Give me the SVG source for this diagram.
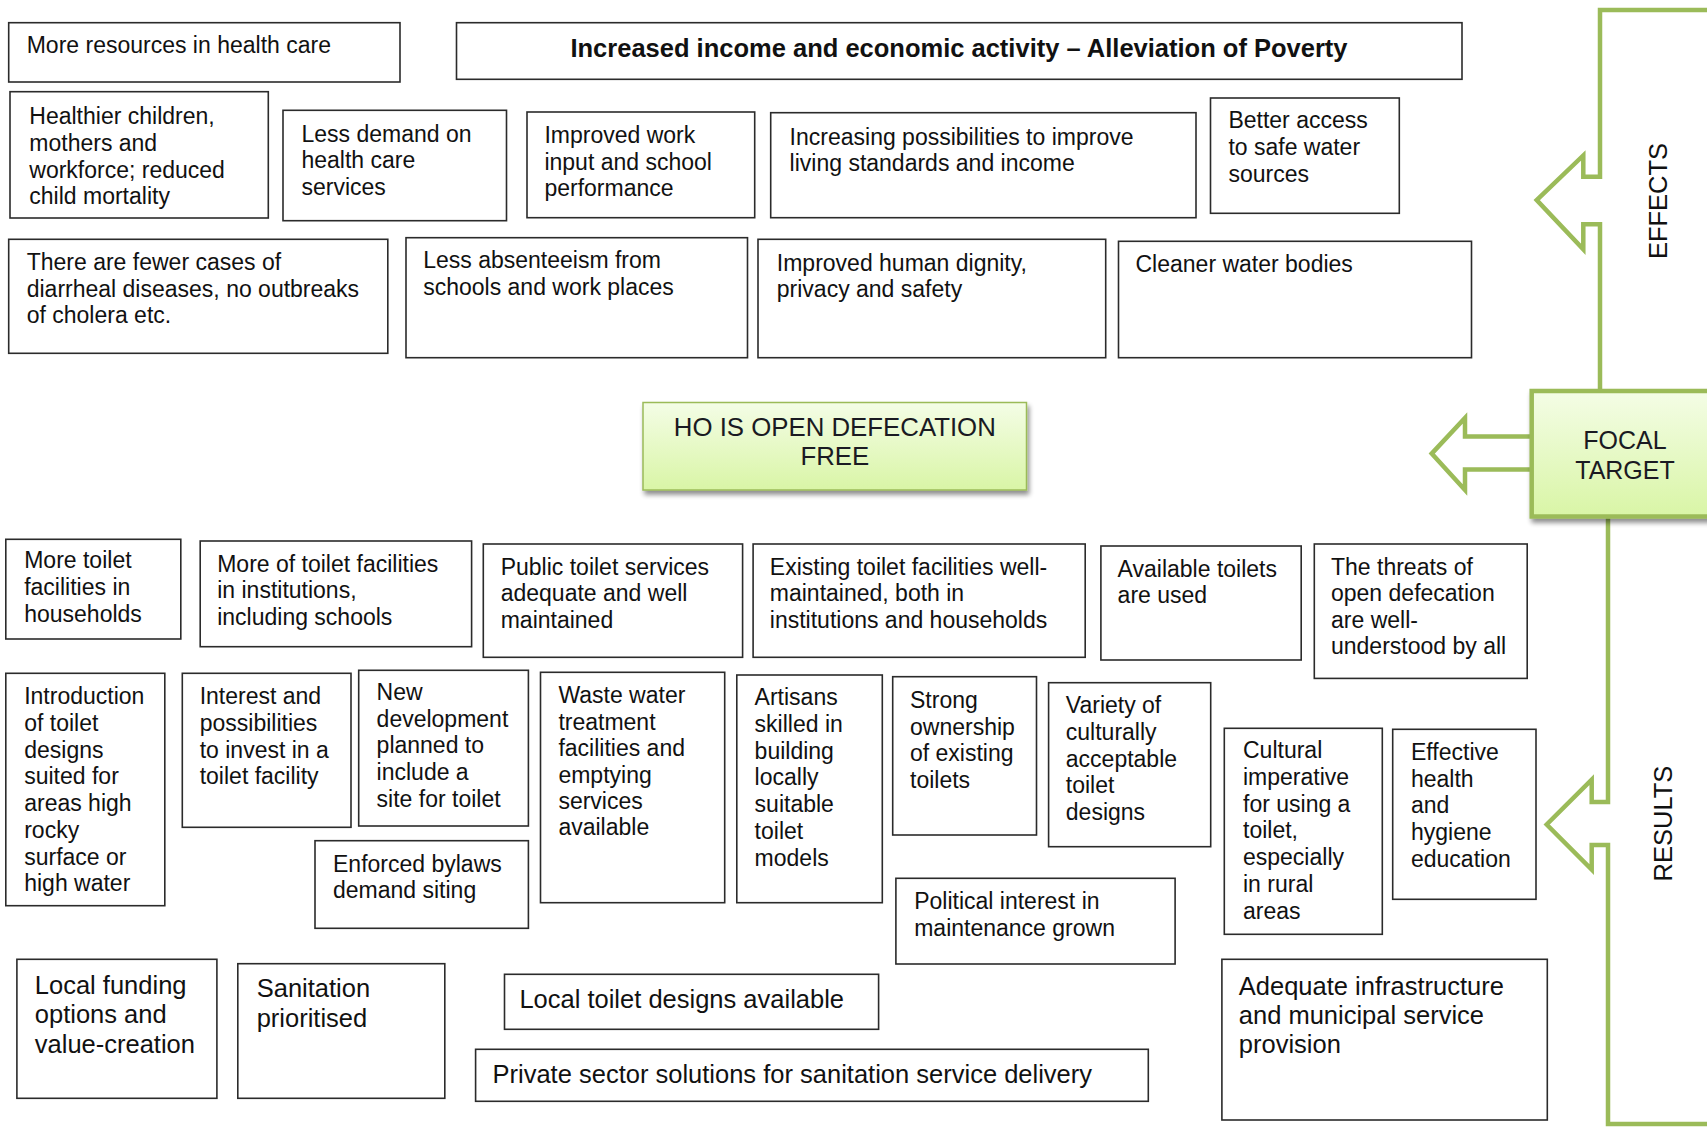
<svg xmlns="http://www.w3.org/2000/svg" width="1707" height="1127" viewBox="0 0 1707 1127">
  <defs>
    <linearGradient id="greenFill" x1="0" y1="0" x2="0" y2="1">
      <stop offset="0" stop-color="#f4fde6"/>
      <stop offset="1" stop-color="#d9f5a6"/>
    </linearGradient>
    <filter id="shadow" x="-10%" y="-20%" width="125%" height="150%">
      <feGaussianBlur in="SourceAlpha" stdDeviation="2.5"/>
      <feOffset dx="2" dy="4" result="blur"/>
      <feComponentTransfer><feFuncA type="linear" slope="0.45"/></feComponentTransfer>
      <feMerge><feMergeNode/><feMergeNode in="SourceGraphic"/></feMerge>
    </filter>
    <style>
      .box { fill: #ffffff; stroke: #2b2b2b; stroke-width: 1.6; }
      .t { font-family: "Liberation Sans", Arial, sans-serif; font-size: 23px; fill: #111111; }
      .tl { font-size: 25.5px; }
      .head { font-family: "Liberation Sans", Arial, sans-serif; font-size: 25.5px; font-weight: bold; fill: #111111; }
      .green { fill: none; stroke: #9bbb59; stroke-width: 4.5; stroke-linejoin: miter; }
      .side { font-family: "Liberation Sans", Arial, sans-serif; font-size: 25.5px; fill: #111111; }
      .target { fill: url(#greenFill); }
      .ctr { font-family: "Liberation Sans", Arial, sans-serif; font-size: 25px; fill: #1a1a22; text-anchor: middle; }
    </style>
  </defs>

  <rect width="1707" height="1127" fill="#ffffff"/>

  <!-- Bracket frames with block arrows -->
  <g id="connectors">
    <path class="green" d="M1710,10 H1600 V176.8 H1583.3 V155.4 L1536.7,200 L1583.3,249.3 V224.3 H1600 V391"/>
    <path class="green" d="M1608,516.5 V802 H1591.7 V779.6 L1546.7,824.5 L1591.7,869.5 V845 H1608 V1124 H1710"/>
    <path d="M1531.7,436.4 H1465 V418 L1431.7,453.6 L1465,490 V469.6 H1531.7" fill="#ffffff" stroke="#9bbb59" stroke-width="4.5"/>
  </g>

  <!-- Side labels -->
  <g id="label-effects">
    <text class="side" text-anchor="middle" transform="translate(1667,201) rotate(-90)">EFFECTS</text>
  </g>
  <g id="label-results">
    <text class="side" text-anchor="middle" transform="translate(1671.5,823.6) rotate(-90)">RESULTS</text>
  </g>

  <!-- Focal target -->
  <g id="focal-target">
    <rect class="target" x="1531.7" y="391" width="185" height="125.5" stroke="#9bbb59" stroke-width="4.5" filter="url(#shadow)"/>
    <text class="ctr" x="1625" y="449">FOCAL</text>
    <text class="ctr" x="1625" y="479">TARGET</text>
  </g>

  <g id="ho-odf">
    <rect class="target" x="643" y="402.5" width="383.5" height="87.5" stroke="#9bbb59" stroke-width="1.5" filter="url(#shadow)"/>
    <text class="ctr" x="834.8" y="435.5" style="font-size:25.8px">HO IS OPEN DEFECATION</text>
    <text class="ctr" x="834.8" y="465" style="font-size:25.8px">FREE</text>
  </g>

  <!-- Effects -->
  <g id="e-health-resources">
    <rect class="box" x="8.7" y="22.7" width="391.3" height="59.3"/>
    <text class="t" x="26.7" y="53.3">More resources in health care</text>
  </g>
  <g id="e-income">
    <rect class="box" x="456.5" y="22.7" width="1005.5" height="56.6"/>
    <text class="head" x="959" y="57" text-anchor="middle">Increased income and economic activity – Alleviation of Poverty</text>
  </g>
  <g id="e-healthier">
    <rect class="box" x="10" y="91.7" width="258.3" height="126.3"/>
    <text class="t" y="124.3"><tspan x="29.3">Healthier children,</tspan><tspan x="29.3" dy="26.7">mothers and</tspan><tspan x="29.3" dy="26.7">workforce; reduced</tspan><tspan x="29.3" dy="26.7">child mortality</tspan></text>
  </g>
  <g id="e-less-demand">
    <rect class="box" x="283" y="110.3" width="223.5" height="110.4"/>
    <text class="t" y="141.7"><tspan x="301.5">Less demand on</tspan><tspan x="301.5" dy="26.4">health care</tspan><tspan x="301.5" dy="26.4">services</tspan></text>
  </g>
  <g id="e-work-school">
    <rect class="box" x="527" y="112" width="227.7" height="105.7"/>
    <text class="t" y="143.3"><tspan x="544.4">Improved work</tspan><tspan x="544.4" dy="26.2">input and school</tspan><tspan x="544.4" dy="26.2">performance</tspan></text>
  </g>
  <g id="e-living-standards">
    <rect class="box" x="770.7" y="112.7" width="425.3" height="105"/>
    <text class="t" y="145"><tspan x="789.6">Increasing possibilities to improve</tspan><tspan x="789.6" dy="25.5">living standards and income</tspan></text>
  </g>
  <g id="e-safe-water">
    <rect class="box" x="1210.5" y="98" width="188.8" height="115.3"/>
    <text class="t" y="128.3"><tspan x="1228.4">Better access</tspan><tspan x="1228.4" dy="26.7">to safe water</tspan><tspan x="1228.4" dy="26.7">sources</tspan></text>
  </g>
  <g id="e-fewer-diseases">
    <rect class="box" x="8.7" y="239.3" width="379.1" height="114"/>
    <text class="t" y="270"><tspan x="26.7">There are fewer cases of</tspan><tspan x="26.7" dy="26.7">diarrheal diseases, no outbreaks</tspan><tspan x="26.7" dy="26.7">of cholera etc.</tspan></text>
  </g>
  <g id="e-absenteeism">
    <rect class="box" x="406" y="237.7" width="341.5" height="120"/>
    <text class="t" y="268.3"><tspan x="423.2">Less absenteeism from</tspan><tspan x="423.2" dy="26.7">schools and work places</tspan></text>
  </g>
  <g id="e-dignity">
    <rect class="box" x="758" y="239.3" width="347.7" height="118.4"/>
    <text class="t" y="271"><tspan x="776.8">Improved human dignity,</tspan><tspan x="776.8" dy="26.2">privacy and safety</tspan></text>
  </g>
  <g id="e-water-bodies">
    <rect class="box" x="1118.5" y="241.3" width="353" height="116.4"/>
    <text class="t" x="1135.5" y="271.7">Cleaner water bodies</text>
  </g>

  <!-- Results -->
  <g id="r-household-toilets">
    <rect class="box" x="5.8" y="539.3" width="175" height="99.7"/>
    <text class="t" y="568.3"><tspan x="24.2">More toilet</tspan><tspan x="24.2" dy="26.7">facilities in</tspan><tspan x="24.2" dy="26.7">households</tspan></text>
  </g>
  <g id="r-institution-toilets">
    <rect class="box" x="200.2" y="541" width="271.4" height="105.7"/>
    <text class="t" y="571.7"><tspan x="217.2">More of toilet facilities</tspan><tspan x="217.2" dy="26.7">in institutions,</tspan><tspan x="217.2" dy="26.7">including schools</tspan></text>
  </g>
  <g id="r-public-toilets">
    <rect class="box" x="483.3" y="544" width="259.3" height="113.3"/>
    <text class="t" y="575"><tspan x="500.7">Public toilet services</tspan><tspan x="500.7" dy="26.3">adequate and well</tspan><tspan x="500.7" dy="26.3">maintained</tspan></text>
  </g>
  <g id="r-maintained">
    <rect class="box" x="753.1" y="544" width="332.1" height="113.3"/>
    <text class="t" y="575"><tspan x="769.8">Existing toilet facilities well-</tspan><tspan x="769.8" dy="26.3">maintained, both in</tspan><tspan x="769.8" dy="26.3">institutions and households</tspan></text>
  </g>
  <g id="r-toilets-used">
    <rect class="box" x="1100.9" y="546" width="200.3" height="114"/>
    <text class="t" y="576.7"><tspan x="1117.6">Available toilets</tspan><tspan x="1117.6" dy="26.6">are used</tspan></text>
  </g>
  <g id="r-threats">
    <rect class="box" x="1314.3" y="544" width="212.9" height="134.4"/>
    <text class="t" y="575"><tspan x="1331">The threats of</tspan><tspan x="1331" dy="26.4">open defecation</tspan><tspan x="1331" dy="26.4">are well-</tspan><tspan x="1331" dy="26.4">understood by all</tspan></text>
  </g>
  <g id="r-toilet-designs">
    <rect class="box" x="5.8" y="673.3" width="159" height="232.4"/>
    <text class="t" y="704.3"><tspan x="24.2">Introduction</tspan><tspan x="24.2" dy="26.7">of toilet</tspan><tspan x="24.2" dy="26.7">designs</tspan><tspan x="24.2" dy="26.7">suited for</tspan><tspan x="24.2" dy="26.7">areas high</tspan><tspan x="24.2" dy="26.7">rocky</tspan><tspan x="24.2" dy="26.7">surface or</tspan><tspan x="24.2" dy="26.7">high water</tspan></text>
  </g>
  <g id="r-invest">
    <rect class="box" x="182.3" y="673.3" width="168.7" height="154"/>
    <text class="t" y="704.3"><tspan x="199.7">Interest and</tspan><tspan x="199.7" dy="26.7">possibilities</tspan><tspan x="199.7" dy="26.7">to invest in a</tspan><tspan x="199.7" dy="26.7">toilet facility</tspan></text>
  </g>
  <g id="r-new-development">
    <rect class="box" x="358.7" y="670.3" width="169.7" height="155.7"/>
    <text class="t" y="700"><tspan x="376.6">New</tspan><tspan x="376.6" dy="26.7">development</tspan><tspan x="376.6" dy="26.7">planned to</tspan><tspan x="376.6" dy="26.7">include a</tspan><tspan x="376.6" dy="26.7">site for toilet</tspan></text>
  </g>
  <g id="r-bylaws">
    <rect class="box" x="315" y="840.7" width="213.4" height="87.6"/>
    <text class="t" y="871.7"><tspan x="333">Enforced bylaws</tspan><tspan x="333" dy="26.6">demand siting</tspan></text>
  </g>
  <g id="r-waste-water">
    <rect class="box" x="540.5" y="672.3" width="184.2" height="230.4"/>
    <text class="t" y="703.3"><tspan x="558.4">Waste water</tspan><tspan x="558.4" dy="26.4">treatment</tspan><tspan x="558.4" dy="26.4">facilities and</tspan><tspan x="558.4" dy="26.4">emptying</tspan><tspan x="558.4" dy="26.4">services</tspan><tspan x="558.4" dy="26.4">available</tspan></text>
  </g>
  <g id="r-artisans">
    <rect class="box" x="736.8" y="675" width="145.5" height="227.7"/>
    <text class="t" y="705"><tspan x="754.6">Artisans</tspan><tspan x="754.6" dy="26.8">skilled in</tspan><tspan x="754.6" dy="26.8">building</tspan><tspan x="754.6" dy="26.8">locally</tspan><tspan x="754.6" dy="26.8">suitable</tspan><tspan x="754.6" dy="26.8">toilet</tspan><tspan x="754.6" dy="26.8">models</tspan></text>
  </g>
  <g id="r-ownership">
    <rect class="box" x="892.7" y="676.7" width="143.8" height="158.3"/>
    <text class="t" y="708.3"><tspan x="910">Strong</tspan><tspan x="910" dy="26.5">ownership</tspan><tspan x="910" dy="26.5">of existing</tspan><tspan x="910" dy="26.5">toilets</tspan></text>
  </g>
  <g id="r-variety">
    <rect class="box" x="1048.6" y="682.7" width="162.1" height="164"/>
    <text class="t" y="713.3"><tspan x="1065.8">Variety of</tspan><tspan x="1065.8" dy="26.7">culturally</tspan><tspan x="1065.8" dy="26.7">acceptable</tspan><tspan x="1065.8" dy="26.7">toilet</tspan><tspan x="1065.8" dy="26.7">designs</tspan></text>
  </g>
  <g id="r-cultural-imperative">
    <rect class="box" x="1224.3" y="728.3" width="158" height="206"/>
    <text class="t" y="758.3"><tspan x="1243">Cultural</tspan><tspan x="1243" dy="26.7">imperative</tspan><tspan x="1243" dy="26.7">for using a</tspan><tspan x="1243" dy="26.7">toilet,</tspan><tspan x="1243" dy="26.7">especially</tspan><tspan x="1243" dy="26.7">in rural</tspan><tspan x="1243" dy="26.7">areas</tspan></text>
  </g>
  <g id="r-hygiene-education">
    <rect class="box" x="1392.7" y="729.3" width="143.3" height="170"/>
    <text class="t" y="760"><tspan x="1411">Effective</tspan><tspan x="1411" dy="26.7">health</tspan><tspan x="1411" dy="26.7">and</tspan><tspan x="1411" dy="26.7">hygiene</tspan><tspan x="1411" dy="26.7">education</tspan></text>
  </g>
  <g id="r-political-interest">
    <rect class="box" x="895.9" y="878.3" width="279.2" height="85.7"/>
    <text class="t" y="909.3"><tspan x="914.2">Political interest in</tspan><tspan x="914.2" dy="26.7">maintenance grown</tspan></text>
  </g>
  <g id="r-local-funding">
    <rect class="box" x="16.9" y="959.3" width="200" height="139"/>
    <text class="t tl" y="994"><tspan x="34.8">Local funding</tspan><tspan x="34.8" dy="29.3">options and</tspan><tspan x="34.8" dy="29.3">value-creation</tspan></text>
  </g>
  <g id="r-sanitation-priority">
    <rect class="box" x="237.8" y="963.7" width="207" height="134.6"/>
    <text class="t tl" y="996.5"><tspan x="256.7">Sanitation</tspan><tspan x="256.7" dy="30">prioritised</tspan></text>
  </g>
  <g id="r-local-designs">
    <rect class="box" x="504.5" y="974.3" width="374.1" height="55"/>
    <text class="t tl" x="519.4" y="1007.7">Local toilet designs available</text>
  </g>
  <g id="r-private-sector">
    <rect class="box" x="475.6" y="1049.3" width="672.7" height="52"/>
    <text class="t tl" x="492.5" y="1083.3">Private sector solutions for sanitation service delivery</text>
  </g>
  <g id="r-infrastructure">
    <rect class="box" x="1221.9" y="959.3" width="325.4" height="160.7"/>
    <text class="t tl" y="994.5"><tspan x="1238.8">Adequate infrastructure</tspan><tspan x="1238.8" dy="29.3">and municipal service</tspan><tspan x="1238.8" dy="29.3">provision</tspan></text>
  </g>
</svg>
